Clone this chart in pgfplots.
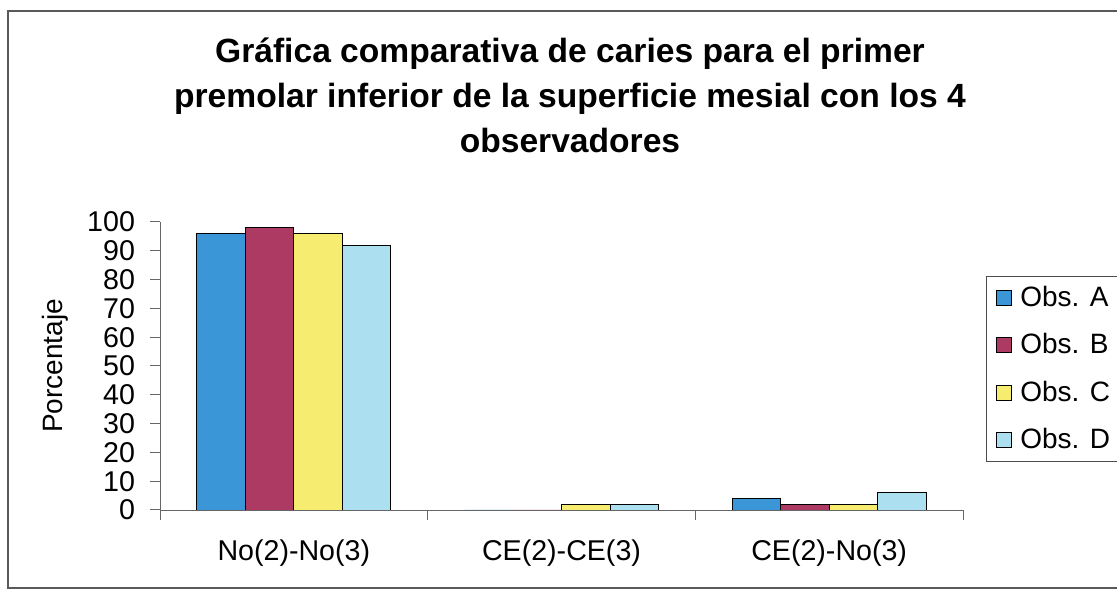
\documentclass[border=0pt]{standalone}
\usepackage{pgfplots}
\pgfplotsset{compat=1.18}
\usepackage{fontspec}
\setmainfont{Liberation Sans}

\definecolor{obsA}{RGB}{58,150,215}
\definecolor{obsB}{RGB}{172,58,98}
\definecolor{obsC}{RGB}{245,236,112}
\definecolor{obsD}{RGB}{172,224,240}

\begin{document}
\begin{tikzpicture}
\useasboundingbox (0,0) rectangle (558.5pt,296pt);
\draw[gray!70!black, line width=0.8pt] (560pt,2pt) -- (4pt,2pt) -- (4pt,290.5pt) -- (560pt,290.5pt);

\node[align=center, font=\fontsize{16.8}{22.5}\selectfont\bfseries, anchor=center]
  at (285pt,248.5pt) {Gráfica comparativa de caries para el primer\\
  premolar inferior de la superficie mesial con los 4\\ observadores};

\begin{axis}[
    at={(80pt,41pt)}, anchor=south west,
    scale only axis,
    width=401.5pt, height=144pt,
    axis lines*=left,
    axis line style={gray!80!black},
    ymin=0, ymax=100,
    ytick={0,10,...,100},
    xmin=-0.5, xmax=2.5,
    ybar=0pt,
    bar width=24.25pt,
    xtick={-0.5,0.5,1.5,2.5},
    xticklabels={},
    extra x ticks={0,1,2},
    extra x tick labels={No(2)-No(3),CE(2)-CE(3),CE(2)-No(3)},
    extra x tick style={major tick length=0pt, xticklabel style={yshift=-11.5pt}},
    tick align=outside,
    major tick length=5pt,
    tick style={gray!80!black, line width=0.5pt},
    tick label style={font=\fontsize{14.3}{14}\selectfont},
    yticklabel style={xshift=-4pt},
    /pgf/number format/assume math mode=true,
    ylabel={Porcentaje},
    ylabel style={font=\fontsize{14}{14}\selectfont, at={(axis description cs:-0.1308,0.5)}, anchor=center},
    legend style={
        at={(1.0286,0.8125)}, anchor=north west,
        draw=gray!60!black, fill=white,
        font=\fontsize{14}{14}\selectfont,
        row sep=8pt, inner xsep=3pt, inner ysep=3pt,
        /tikz/every even column/.append style={column sep=0pt},
    },
    legend cell align=left,
    legend image code/.code={
        \path[draw=none, fill=none] (0pt,0pt) -- (12pt,0pt);
        \draw[#1, line width=0.5pt] (2pt,-3.8pt) rectangle (9.6pt,3.8pt);},
]
\addplot[fill=obsA, draw=black] coordinates {(0,96) (1,0) (2,4)};
\addplot[fill=obsB, draw=black] coordinates {(0,98) (1,0) (2,2)};
\addplot[fill=obsC, draw=black] coordinates {(0,96) (1,2) (2,2)};
\addplot[fill=obsD, draw=black] coordinates {(0,92) (1,2) (2,6)};
\legend{Obs. A, Obs. B, Obs. C, Obs. D}
\end{axis}
\end{tikzpicture}
\end{document}
